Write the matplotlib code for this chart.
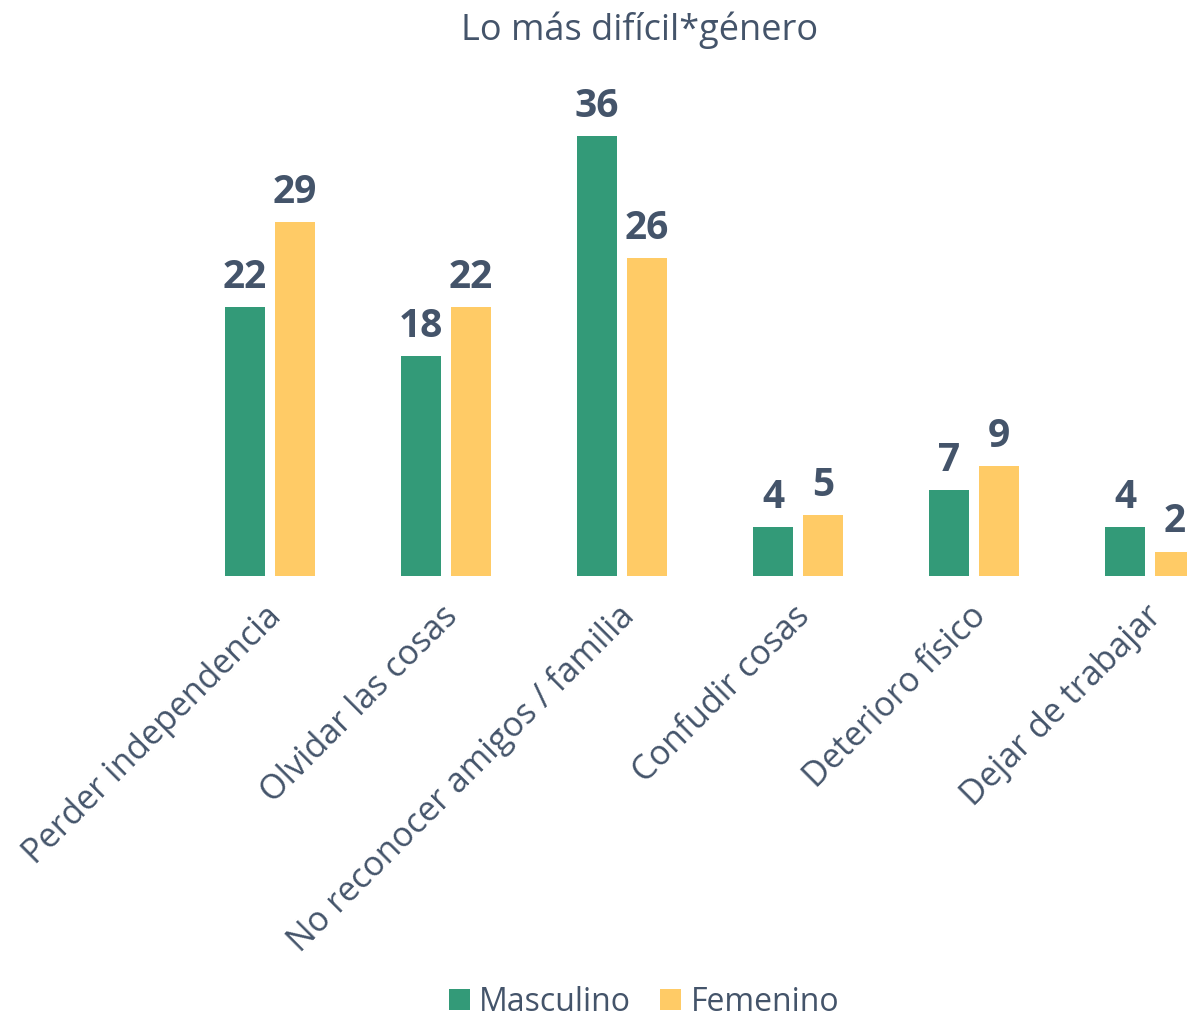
import matplotlib
matplotlib.use("Agg")
import matplotlib.pyplot as plt
import numpy as np

categories = [
    "Perder independencia",
    "Olvidar las cosas",
    "No reconocer amigos / familia",
    "Confudir cosas",
    "Deterioro físico",
    "Dejar de trabajar",
]
masculino = [22, 18, 36, 4, 7, 4]
femenino = [29, 22, 26, 5, 9, 2]

GREEN = "#339A78"
YELLOW = "#FFCB66"
TEXT = "#44546A"

plt.rcParams["font.family"] = ["Open Sans", "DejaVu Sans"]

fig = plt.figure(figsize=(11.87, 10.2), dpi=100)
ax = fig.add_axes([40 / 1187, 443 / 1020, 1147 / 1187, 487 / 1020])

x = np.arange(len(categories))
off = 0.142
w = 0.227
b1 = ax.bar(x - off, masculino, width=w, color=GREEN, label="Masculino")
b2 = ax.bar(x + off, femenino, width=w, color=YELLOW, label="Femenino")

for bars, vals in ((b1, masculino), (b2, femenino)):
    for rect, v in zip(bars, vals):
        ax.annotate(str(v), (rect.get_x() + rect.get_width() / 2, v),
                    xytext=(0, 8), textcoords="offset points",
                    ha="center", va="bottom", fontsize=28, fontweight="bold",
                    color=TEXT)

ax.set_xlim((40 - 270) / 176, (1187 - 270) / 176)
ax.set_ylim(0, 487 / 12.22)
ax.set_xticks(x - 0.03)
ax.set_xticklabels(categories, rotation=45, ha="right", rotation_mode="anchor",
                   fontsize=24.5, color=TEXT)
ax.tick_params(axis="x", length=0, pad=16)
ax.set_yticks([])
for s in ax.spines.values():
    s.set_visible(False)

fig.text(640 / 1187, 1 - 30 / 1020, "Lo más difícil*género", ha="center", va="center",
         fontsize=26, color=TEXT)

leg = fig.legend(handles=[b1, b2], loc="center", bbox_to_anchor=(644 / 1187, 1 - 1003 / 1020),
                 ncol=2, frameon=False, fontsize=23, handlelength=0.65, handleheight=0.65,
                 handletextpad=0.3, columnspacing=0.9)
for t in leg.get_texts():
    t.set_color(TEXT)

fig.savefig("out.png", dpi=100)
